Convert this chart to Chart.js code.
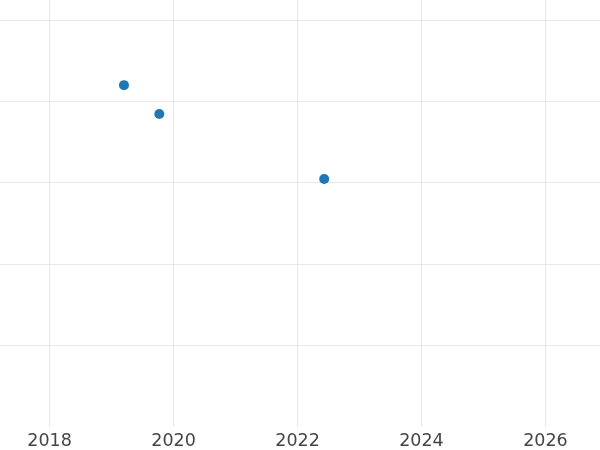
<!DOCTYPE html>
<html>
<head>
<meta charset="utf-8">
<script src="https://cdn.jsdelivr.net/npm/chart.js@4/dist/chart.umd.min.js"></script>
<style>
html,body{margin:0;padding:0;background:#fff;}
#wrap{width:600px;height:450px;}
</style>
</head>
<body>
<div id="wrap"><canvas id="c" width="600" height="450"></canvas></div>
<script>
const xValues = [2019.2, 2019.77, 2022.43];
const yValues = [42.0, 38.45, 30.47];
const xTicks = [2018, 2020, 2022, 2024, 2026];
const yTicks = [10, 20, 30, 40, 50];

const pts = xValues.map((x, i) => ({x: x, y: yValues[i]}));

new Chart(document.getElementById('c'), {
  type: 'scatter',
  data: {
    datasets: [{
      data: pts,
      backgroundColor: '#1f77b4',
      borderWidth: 0,
      pointRadius: 5,
      pointHoverRadius: 5
    }]
  },
  options: {
    responsive: false,
    animation: false,
    layout: {padding: 0, autoPadding: false},
    plugins: {legend: {display: false}, tooltip: {enabled: false}},
    scales: {
      x: {
        type: 'linear',
        min: 2017.2,
        max: 2026.88,
        afterBuildTicks: s => { s.ticks = xTicks.map(v => ({value: v})); },
        afterFit: s => { s.height = 23; },
        grid: {color: '#e8e8e8', lineWidth: 1, drawTicks: false},
        border: {display: false},
        ticks: {
          padding: 4,
          color: '#444',
          font: {family: 'DejaVu Sans', size: 17.5},
          maxRotation: 0,
          callback: v => String(v)
        }
      },
      y: {
        type: 'linear',
        min: 0,
        max: 52.46,
        afterBuildTicks: s => { s.ticks = yTicks.map(v => ({value: v})); },
        afterFit: s => { s.width = 0; },
        grid: {color: '#e8e8e8', lineWidth: 1, drawTicks: false},
        border: {display: false},
        ticks: {display: false}
      }
    }
  }
});
</script>
</body>
</html>
